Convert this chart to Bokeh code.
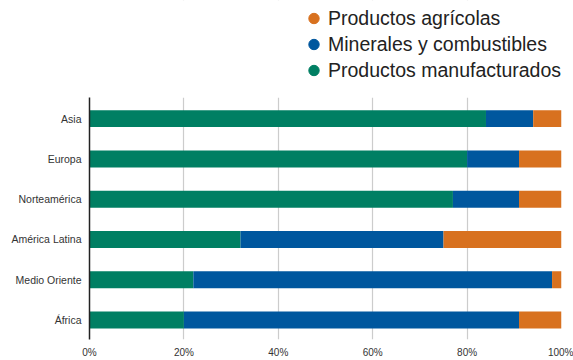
from bokeh.plotting import figure
from bokeh.models import (Range1d, Legend, LegendItem, FixedTicker, ColumnDataSource,
                          CustomJSTickFormatter, BoxAnnotation)
from bokeh.embed import file_html
from bokeh.resources import INLINE

regions = ["Asia", "Europa", "Norteamérica", "América Latina", "Medio Oriente", "África"]
manufacturados = [84, 80, 77, 32, 22, 20]
minerales = [10, 11, 14, 43, 76, 71]
agricolas = [6, 9, 9, 25, 2, 9]
series_names = ["Productos manufacturados", "Minerales y combustibles", "Productos agrícolas"]
series_keys = ["manu", "mine", "agri"]
colors = ["#007F63", "#00579E", "#D8711F"]
x_ticks = [0, 20, 40, 60, 80, 100]

FONT = "Liberation Sans"

n = len(regions)
ypos = [n - 1 - i for i in range(n)]  # Asia on top
source = ColumnDataSource(dict(y=ypos, manu=manufacturados, mine=minerales, agri=agricolas))

p = figure(width=573, height=360, output_backend="svg", toolbar_location=None,
           y_range=Range1d(-0.483, 7.933), x_range=Range1d(0, 100))
p.min_border_left = 89
p.min_border_right = 12
p.min_border_top = 0
p.min_border_bottom = 20
p.outline_line_color = None
p.background_fill_color = "white"
p.border_fill_color = "white"

p.hbar_stack(series_keys, y="y", height=0.42, color=colors, source=source, line_width=0)

# Axes
for ax in (p.xaxis, p.yaxis):
    ax.major_tick_line_color = None
    ax.minor_tick_line_color = None
    ax.major_tick_out = 0
    ax.major_tick_in = 0
    ax.minor_tick_out = 0
    ax.minor_tick_in = 0

p.xaxis.ticker = FixedTicker(ticks=x_ticks)
p.xaxis.formatter = CustomJSTickFormatter(code="return tick + '%';")
p.xaxis.axis_line_color = None
p.xaxis.major_label_standoff = 7
p.xaxis.major_label_text_font = FONT
p.xaxis.major_label_text_font_size = "10px"
p.xaxis.major_label_text_color = "#333333"

p.yaxis.ticker = FixedTicker(ticks=ypos)
p.yaxis.formatter = CustomJSTickFormatter(args=dict(labels=regions),
                                          code="return labels[labels.length - 1 - Math.round(tick)];")
p.yaxis.bounds = (-0.5, n - 0.48)
p.yaxis.axis_line_color = "#222222"
p.yaxis.axis_line_width = 1.5
p.yaxis.major_label_standoff = 8
p.yaxis.major_label_text_font = FONT
p.yaxis.major_label_text_font_size = "10.5px"
p.yaxis.major_label_text_color = "#333333"

p.xgrid.ticker = FixedTicker(ticks=x_ticks[1:])
p.xgrid.bounds = (0, 100.5)
p.xgrid.grid_line_color = "#cccccc"
p.xgrid.grid_line_width = 1.2
p.ygrid.grid_line_color = None

# white cover so grid lines stop at the top of the category area
p.add_layout(BoxAnnotation(bottom=n - 0.48, fill_color="white", fill_alpha=1.0,
                           line_color=None, level="underlay"))

# Legend with circle markers (hidden helper renderers)
legend_items = []
for key, name, col in zip(reversed(series_keys), reversed(series_names), reversed(colors)):
    r = p.scatter(x=key, y="y", source=source, marker="circle", color=col, visible=False)
    legend_items.append(LegendItem(label=name, renderers=[r]))

legend = Legend(items=legend_items, location=(211, 256), orientation="vertical",
                padding=0, margin=0, spacing=0,
                glyph_width=27, glyph_height=26, label_height=26, label_standoff=1,
                label_text_font=FONT, label_text_font_size="19.5px",
                label_text_color="#222222",
                inactive_fill_alpha=0.0,
                border_line_color=None, background_fill_alpha=0)
p.add_layout(legend, "center")

open("out.html", "w").write(file_html(p, INLINE))
